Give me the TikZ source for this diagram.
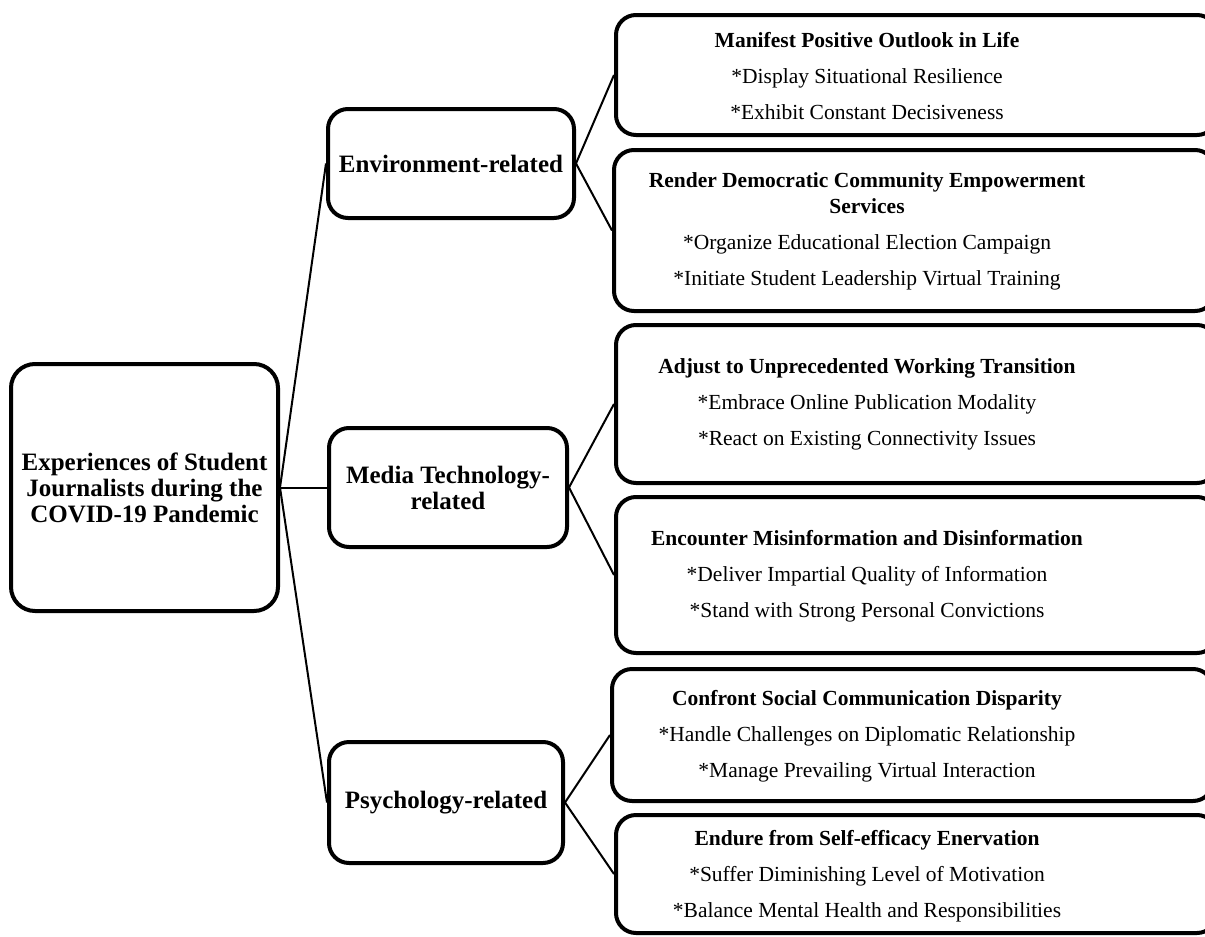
\documentclass[tikz,border=0pt]{standalone}
\usepackage{fontspec}
\setmainfont{Liberation Serif}
\usepackage{tikz}
\usetikzlibrary{positioning}

\begin{document}
\begin{tikzpicture}[x=0.5pt, y=-0.5pt,
    topic/.style = {draw, line width=2pt, rounded corners=12pt, inner sep=0pt, align=center, font=\fontsize{12.5}{13}\selectfont\bfseries},
    theme/.style = {draw, line width=2pt, rounded corners=10pt, inner sep=0pt, align=center, font=\fontsize{12.5}{13}\selectfont\bfseries},
    subtheme/.style = {draw, line width=2pt, rounded corners=10pt, inner sep=0pt, anchor=west, minimum width=300.5pt},
    subtext/.style = {inner sep=0pt, align=center, font=\fontsize{10.75}{13}\selectfont},
    link/.style = {line width=1pt}]
            \useasboundingbox (0,0) rectangle (1205,937);
            \clip (0,0) rectangle (1205,937);
            % main topic
            \node[topic, minimum width=133.5pt, minimum height=123.5pt](exp) at (144.5,487.5){Experiences of Student\\Journalists during the\\COVID-19 Pandemic};
            % themes
            \node[theme, minimum width=123pt, minimum height=54.5pt](env) at (451,163.5){Environment-related};
            \node[theme, minimum width=119pt, minimum height=59.5pt](media)[right=23.5pt of exp]{Media Technology-\\related};
            \node[theme, minimum width=117pt, minimum height=60.5pt](psy) at (446,802.5){Psychology-related};
            \draw[link] (exp.east) -- (env.west);
            \draw[link] (exp.east) -- (media.west);
            \draw[link] (exp.east) -- (psy.west);
            % subthemes
            \node[subtheme, minimum height=60pt](s1) at (614,75){};
            \node[subtheme, minimum height=80.5pt](s2) at (612,230.5){};
            \node[subtheme, minimum height=79pt](s3) at (614,404){};
            \node[subtheme, minimum height=78pt](s4) at (614,575){};
            \node[subtheme, minimum height=66pt](s5) at (610,735){};
            \node[subtheme, minimum height=59pt](s6) at (614,874){};
            \node[subtext](t1) at (867,76){\textbf{Manifest Positive Outlook in Life}\\[5pt]*Display Situational Resilience\\[5pt]*Exhibit Constant Decisiveness};
            \node[subtext](t2) at (867,231){\textbf{Render Democratic Community Empowerment}\\\textbf{Services}\\[5pt]*Organize Educational Election Campaign\\[5pt]*Initiate Student Leadership Virtual Training};
            \node[subtext](t3) at (867,404){\textbf{Adjust to Unprecedented Working Transition}\\[5pt]*Embrace Online Publication Modality\\[5pt]*React on Existing Connectivity Issues};
            \node[subtext](t4) at (867,576){\textbf{Encounter Misinformation and Disinformation}\\[5pt]*Deliver Impartial Quality of Information\\[5pt]*Stand with Strong Personal Convictions};
            \node[subtext](t5) at (867,736){\textbf{Confront Social Communication Disparity}\\[5pt]*Handle Challenges on Diplomatic Relationship\\[5pt]*Manage Prevailing Virtual Interaction};
            \node[subtext](t6) at (867,876){\textbf{Endure from Self-efficacy Enervation}\\[5pt]*Suffer Diminishing Level of Motivation\\[5pt]*Balance Mental Health and Responsibilities};
            \draw[link] (env.east) -- (s1.west);
            \draw[link] (env.east) -- (s2.west);
            \draw[link] (media.east) -- (s3.west);
            \draw[link] (media.east) -- (s4.west);
            \draw[link] (psy.east) -- (s5.west);
            \draw[link] (psy.east) -- (s6.west);
        \end{tikzpicture}
\end{document}
